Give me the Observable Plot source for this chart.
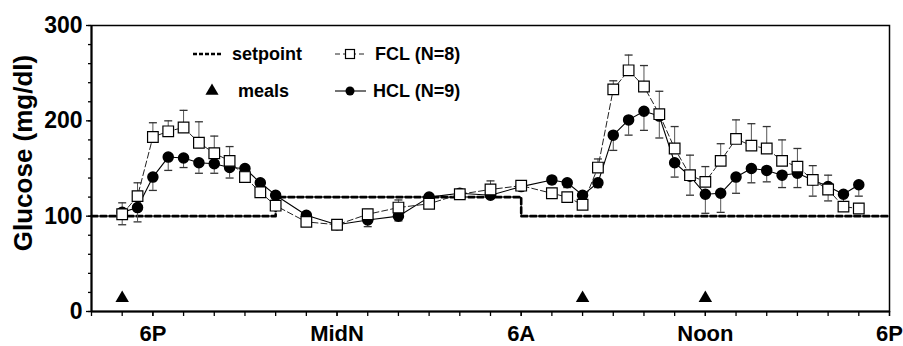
<!DOCTYPE html>
<html><head><meta charset="utf-8">
<script src="https://cdn.jsdelivr.net/npm/d3@7"></script>
<script src="https://cdn.jsdelivr.net/npm/@observablehq/plot@0.6"></script>
<style>body{margin:0;background:#fff}#chart{width:903px;height:346px}</style>
</head><body><div id="chart"></div>
<script>
// hours after midnight of day 1 (18 = 6P, 24 = MidN, 30 = 6A, 36 = Noon, 42 = 6P next day)
const times   = [17,17.5,18,18.5,19,19.5,20,20.5,21,21.5,22,23,24,25,26,27,28,29,30,31,31.5,32,32.5,33,33.5,34,34.5,35,35.5,36,36.5,37,37.5,38,38.5,39,39.5,40,40.5,41];
const fclMean = [102,121,183,189,193,177,166,158,141,125,111,94,91,102,109,113,123,128,132,124,120,112,151,233,253,236,207,171,143,136,158,181,174,171,158,152,138,128,110,108];
const fclSem  = [12,14,15,11,18,22,18,15,10,6,5,4,3,5,8,4,4,9,4,5,4,5,9,9,16,22,24,23,21,16,18,20,23,23,22,19,15,15,5,5];
const hclMean = [104,109,141,162,161,156,155,151,150,135,122,101,91,96,100,120,124,122,131,138,135,122,135,185,201,210,205,156,142,123,124,141,150,148,143,145,138,131,123,133];
const hclSem  = [13,15,14,14,10,11,10,11,6,5,4,5,4,7,5,3,3,3,3,4,5,4,5,16,16,20,23,15,20,20,20,17,15,12,13,15,17,15,8,12];
const setpointTimes  = [16,22,30,42];
const setpointValues = [100,120,100,100];
const mealTimes  = [17,32,36];
const mealLevels = [14,14,14];
const xTickValues = [18,24,30,36,42];
const xTickLabels = ["6P","MidN","6A","Noon","6P"];
const xMinorTicks = [16,17,18,19,20,21,22,23,24,25,26,27,28,29,30,31,32,33,34,35,36,37,38,39,40,41,42];
const yTickValues = [0,100,200,300];
const yMinorTicks = [0,20,40,60,80,100,120,140,160,180,200,220,240,260,280,300];
const yTitle = "Glucose (mg/dl)";
const legendLabels = ["setpoint","meals","FCL (N=8)","HCL (N=9)"];

const fcl = times.map((t,i)=>({t, v:fclMean[i], s:fclSem[i]}));
const hcl = times.map((t,i)=>({t, v:hclMean[i], s:hclSem[i]}));
const setpoint = setpointTimes.map((t,i)=>({t, v:setpointValues[i]}));
const meals = mealTimes.map((t,i)=>({t, v:mealLevels[i]}));

const capSymbol = {draw(ctx, size){ const w = Math.sqrt(size/Math.PI); ctx.moveTo(-w,0); ctx.lineTo(w,0); }};
const font = "'Liberation Sans', Arial, Helvetica, sans-serif";

const plot = Plot.plot({
  width:903, height:346,
  marginLeft:91, marginRight:14, marginTop:25, marginBottom:35,
  style:{fontFamily:font, fontWeight:"bold", background:"white", color:"black", overflow:"visible"},
  x:{domain:[16,42]},
  y:{domain:[0,300]},
  marks:[
    Plot.frame({stroke:"black", strokeWidth:1.5}),
    Plot.axisX(xMinorTicks, {tickSize:5, tickFormat:()=>"", label:null, strokeWidth:1.3}),
    Plot.axisX(xTickValues, {tickSize:5, tickPadding:9, fontSize:22, label:null, strokeWidth:1.3,
      tickFormat:d=>xTickLabels[xTickValues.indexOf(d)]}),
    Plot.axisY(yMinorTicks, {tickSize:3, tickFormat:()=>"", label:null, strokeWidth:1.3}),
    Plot.axisY(yTickValues, {tickSize:5, tickPadding:4, fontSize:23, label:null, strokeWidth:1.3}),
    Plot.ruleX([16], {stroke:"black", strokeWidth:2}),
    Plot.ruleY([0], {stroke:"black", strokeWidth:2}),
    Plot.line(setpoint, {x:"t", y:"v", curve:"step-after", stroke:"black", strokeWidth:2.6, strokeDasharray:"6,3"}),
    Plot.line(fcl, {x:"t", y:"v", stroke:"#222", strokeWidth:1, strokeDasharray:"6,3"}),
    Plot.line(hcl, {x:"t", y:"v", stroke:"black", strokeWidth:1.1}),
    Plot.ruleX(fcl, {x:"t", y1:"v", y2:d=>d.v+d.s, stroke:"#555", strokeWidth:1}),
    Plot.dot(fcl, {x:"t", y:d=>d.v+d.s, symbol:capSymbol, r:4, stroke:"#333", fill:"none", strokeWidth:1.3}),
    Plot.ruleX(hcl, {x:"t", y1:d=>d.v-d.s, y2:"v", stroke:"#555", strokeWidth:1}),
    Plot.dot(hcl, {x:"t", y:d=>d.v-d.s, symbol:capSymbol, r:4, stroke:"#333", fill:"none", strokeWidth:1.3}),
    Plot.dot(hcl, {x:"t", y:"v", r:5, fill:"black", stroke:"black"}),
    Plot.dot(fcl, {x:"t", y:"v", symbol:"square", r:6, fill:"white", stroke:"black", strokeWidth:1.2}),
    Plot.dot(meals, {x:"t", y:"v", symbol:"triangle", r:5, fill:"black", stroke:"none"})
  ]
});
document.getElementById("chart").appendChild(plot);

// axis title and legend (layout only)
const svg = d3.select(plot);
svg.append("text").attr("transform","translate(32,153) rotate(-90)")
  .attr("text-anchor","middle").attr("font-size",26).attr("font-weight","bold")
  .attr("font-family",font).attr("fill","black").text(yTitle);

const lg = svg.append("g").attr("font-family",font).attr("font-weight","bold").attr("font-size",18)
  .attr("fill","black").attr("text-anchor","start");
lg.append("line").attr("x1",193).attr("x2",223).attr("y1",54).attr("y2",54)
  .attr("stroke","black").attr("stroke-width",2.4).attr("stroke-dasharray","4,2");
lg.append("text").attr("x",232).attr("y",60).text(legendLabels[0]);
lg.append("path").attr("d",d3.symbol(d3.symbolTriangle,75)()).attr("transform","translate(212,91)").attr("fill","black");
lg.append("text").attr("x",238).attr("y",97).text(legendLabels[1]);
lg.append("line").attr("x1",335).attr("x2",366).attr("y1",54).attr("y2",54)
  .attr("stroke","#222").attr("stroke-width",1).attr("stroke-dasharray","5,3");
lg.append("rect").attr("x",345.5).attr("y",49.5).attr("width",9).attr("height",9)
  .attr("fill","white").attr("stroke","black").attr("stroke-width",1.2);
lg.append("text").attr("x",375).attr("y",60).text(legendLabels[2]);
lg.append("line").attr("x1",335).attr("x2",366).attr("y1",91).attr("y2",91)
  .attr("stroke","black").attr("stroke-width",1.1);
lg.append("circle").attr("cx",350).attr("cy",91).attr("r",4.5).attr("fill","black");
lg.append("text").attr("x",373).attr("y",97).text(legendLabels[3]);
</script></body></html>
